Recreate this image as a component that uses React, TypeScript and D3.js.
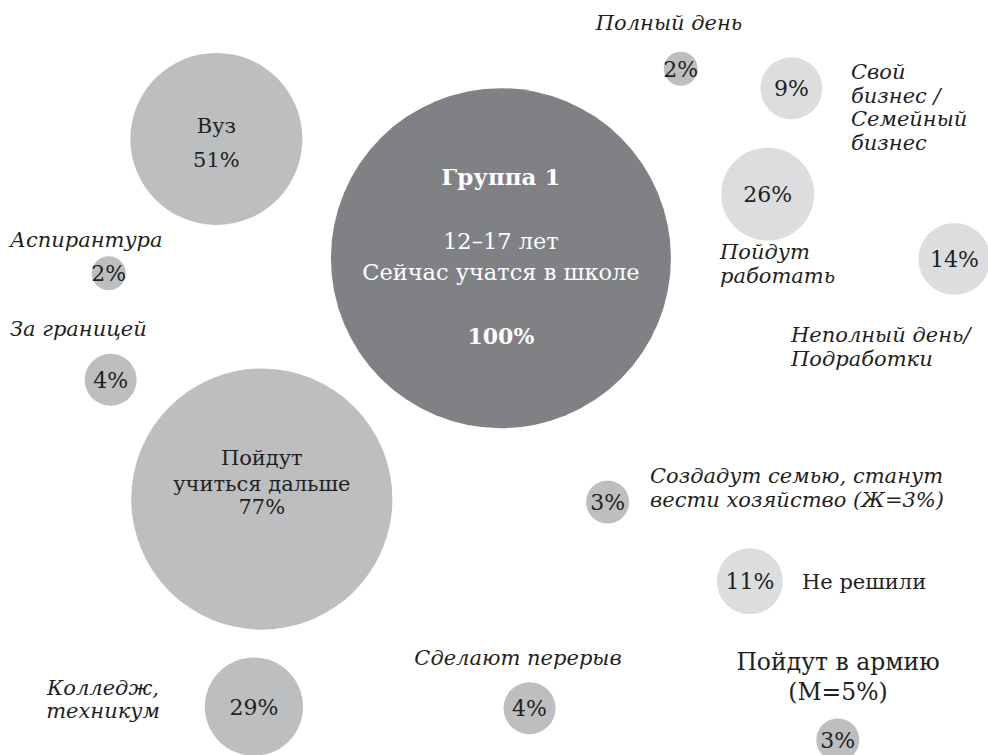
import * as d3 from "d3";

const W = 988;
const H = 755;

// bubbles: category, share of respondents (%), tone
const categories = [
  "Группа 1",
  "Вуз",
  "Аспирантура",
  "За границей",
  "Пойдут учиться дальше",
  "Колледж, техникум",
  "Сделают перерыв",
  "Создадут семью",
  "Не решили",
  "Пойдут в армию",
  "Полный день",
  "Свой бизнес",
  "Пойдут работать",
  "Неполный день",
];
const shares = [100, 51, 2, 4, 77, 29, 4, 3, 11, 3, 2, 9, 26, 14];
const tones = ["dark", "mid", "mid", "mid", "mid", "mid", "mid", "mid", "light", "mid", "mid", "light", "light", "light"];
// text drawn inside each circle
const bubbleText = [
  [],
  ["Вуз", "51%"],
  ["2%"],
  ["4%"],
  ["Пойдут", "учиться дальше", "77%"],
  ["29%"],
  ["4%"],
  ["3%"],
  ["11%"],
  ["3%"],
  ["2%"],
  ["9%"],
  ["26%"],
  ["14%"],
];

// layout of the bubble map, in percent of the canvas
const layoutX = [50.7, 21.9, 11.0, 11.2, 26.5, 25.7, 53.6, 61.5, 75.9, 84.8, 68.9, 80.1, 77.7, 96.6];
const layoutY = [34.2, 18.4, 36.2, 50.3, 66.1, 93.6, 93.8, 66.5, 77.0, 98.0, 9.1, 11.7, 25.7, 34.3];
// baseline offsets (px from centre) for the lines inside a circle
const lineOffsets: Record<number, number[]> = { 1: [-6, 28], 4: [-34, -8, 15] };

type Note = { lines: string[]; x: number; y: number; anchor: string; italic?: boolean; size?: number; lh?: number };
const notes: Note[] = [
  { lines: ["Полный день"], x: 669, y: 30, anchor: "middle", italic: true },
  { lines: ["Свой", "бизнес /", "Семейный", "бизнес"], x: 851, y: 79, anchor: "start", italic: true, lh: 23.5 },
  { lines: ["Пойдут", "работать"], x: 720, y: 259, anchor: "start", italic: true, lh: 24 },
  { lines: ["Неполный день/", "Подработки"], x: 791, y: 342, anchor: "start", italic: true, lh: 24 },
  { lines: ["Аспирантура"], x: 10, y: 247, anchor: "start", italic: true },
  { lines: ["За границей"], x: 10, y: 336, anchor: "start", italic: true },
  { lines: ["Создадут семью, станут", "вести хозяйство (Ж=3%)"], x: 650, y: 483, anchor: "start", italic: true, lh: 24 },
  { lines: ["Не решили"], x: 802, y: 589, anchor: "start", size: 21 },
  { lines: ["Сделают перерыв"], x: 518, y: 665, anchor: "middle", italic: true },
  { lines: ["Пойдут в армию", "(М=5%)"], x: 838, y: 670, anchor: "middle", size: 23.5, lh: 30 },
  { lines: ["Колледж,", "техникум"], x: 103, y: 695, anchor: "middle", italic: true, lh: 23 },
];

const fills: Record<string, string> = { dark: "#808185", mid: "#bdbec0", light: "#dcdddf" };
const FONT = "'DejaVu Serif', serif";
const INK = "#231f20";

export default function App() {
  const x = d3.scaleLinear().domain([0, 100]).range([0, W]);
  const y = d3.scaleLinear().domain([0, 100]).range([0, H]);
  const r = d3.scaleLinear().domain([0, 2, 4, 14, 30, 100]).range([0, 17, 26, 36, 50, 170]);

  const bubbles = categories.map((c, i) => ({
    idx: i,
    name: c,
    share: shares[i],
    tone: tones[i],
    text: bubbleText[i],
    cx: x(layoutX[i]),
    cy: y(layoutY[i]),
  }));
  const main = bubbles[0];

  return (
    <svg width={W} height={H} style={{ position: "absolute", left: 0, top: 0, background: "#fff" }} fontFamily={FONT}>
      {bubbles.map((b) => (
        <circle key={b.name} cx={b.cx} cy={b.cy} r={r(b.share)} fill={fills[b.tone]} />
      ))}
      {bubbles.slice(1).map((b) => {
        const offs = lineOffsets[b.idx] ?? [8];
        const multi = b.text.length > 1;
        return (
          <text key={b.name + "-t"} textAnchor="middle" fill={INK} fontSize={multi ? 21 : 22}>
            {b.text.map((t, j) => (
              <tspan key={j} x={b.cx} y={b.cy + offs[j]}>
                {t}
              </tspan>
            ))}
          </text>
        );
      })}
      <g fill="#fff" textAnchor="middle">
        <text x={main.cx} y={main.cy - 73} fontSize={23} fontWeight="bold">{main.name}</text>
        <text x={main.cx} y={main.cy - 9} fontSize={22.5}>12–17 лет</text>
        <text x={main.cx} y={main.cy + 22} fontSize={22.5}>Сейчас учатся в школе</text>
        <text x={main.cx} y={main.cy + 86} fontSize={22} fontWeight="bold">{d3.format(".0f")(main.share)}%</text>
      </g>
      {notes.map((n, i) => (
        <text key={i} textAnchor={n.anchor} fill={INK} fontStyle={n.italic ? "italic" : "normal"} fontSize={n.size ?? 21}>
          {n.lines.map((l, j) => (
            <tspan key={j} x={n.x} y={n.y + j * (n.lh ?? 24)}>{l}</tspan>
          ))}
        </text>
      ))}
    </svg>
  );
}
